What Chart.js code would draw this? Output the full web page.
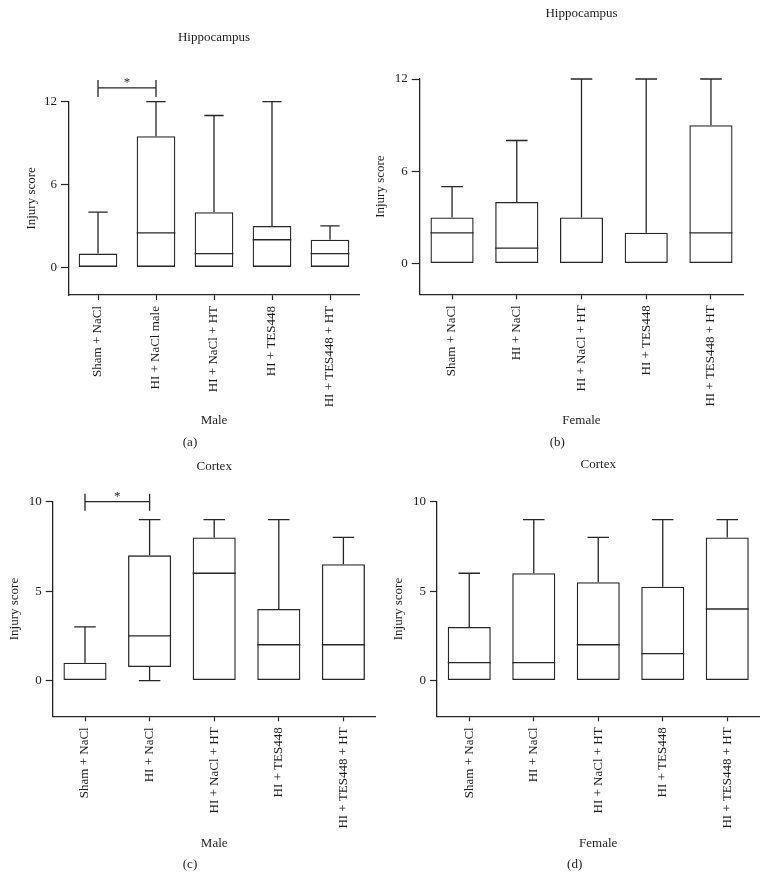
<!DOCTYPE html>
<html><head><meta charset="utf-8">
<script src="https://cdn.jsdelivr.net/npm/chart.js@4/dist/chart.umd.min.js"></script>
<style>
html,body{margin:0;padding:0;background:#fff;}
body{width:769px;height:891px;position:relative;overflow:hidden;}
canvas{position:absolute;}
</style></head><body>
<canvas id="cA" width="384" height="450" style="left:0px;top:0px"></canvas>
<canvas id="cB" width="409" height="450" style="left:360px;top:0px"></canvas>
<canvas id="cC" width="384" height="441" style="left:0px;top:450px"></canvas>
<canvas id="cD" width="389" height="441" style="left:380px;top:450px"></canvas>
<script>
// ---------- data ----------
const groupsHippoMale = ['Sham + NaCl', 'HI + NaCl male', 'HI + NaCl + HT', 'HI + TES448', 'HI + TES448 + HT'];
const groups = ['Sham + NaCl', 'HI + NaCl', 'HI + NaCl + HT', 'HI + TES448', 'HI + TES448 + HT'];

const hippoTicks = [0, 6, 12];
const cortexTicks = [0, 5, 10];

// (a) Hippocampus, male
const hippoMaleMin    = [0, 0, 0, 0, 0];
const hippoMaleQ1     = [0, 0, 0, 0, 0];
const hippoMaleMedian = [0, 2.5, 1, 2, 1];
const hippoMaleQ3     = [1, 9.5, 4, 3, 2];
const hippoMaleMax    = [4, 12, 11, 12, 3];

// (b) Hippocampus, female
const hippoFemaleMin    = [0, 0, 0, 0, 0];
const hippoFemaleQ1     = [0, 0, 0, 0, 0];
const hippoFemaleMedian = [2, 1, 0, 0, 2];
const hippoFemaleQ3     = [3, 4, 3, 2, 9];
const hippoFemaleMax    = [5, 8, 12, 12, 12];

// (c) Cortex, male
const cortexMaleMin    = [0, 0, 0, 0, 0];
const cortexMaleQ1     = [0, 0.75, 0, 0, 0];
const cortexMaleMedian = [0, 2.5, 6, 2, 2];
const cortexMaleQ3     = [1, 7, 8, 4, 6.5];
const cortexMaleMax    = [3, 9, 9, 9, 8];

// (d) Cortex, female
const cortexFemaleMin    = [0, 0, 0, 0, 0];
const cortexFemaleQ1     = [0, 0, 0, 0, 0];
const cortexFemaleMedian = [1, 1, 2, 1.5, 4];
const cortexFemaleQ3     = [3, 6, 5.5, 5.25, 8];
const cortexFemaleMax    = [6, 9, 8, 9, 9];

// significance brackets: [fromIndex, toIndex, level]
const sigHippoMale = [0, 1, 13];
const sigCortexMale = [0, 1, 10];

// ---------- styling ----------
const LINE = '#262626';
const TEXT = '#1f1c1d';
const FONT = "'Liberation Serif', 'Times New Roman', serif";
Chart.defaults.font.family = FONT;
Chart.defaults.font.size = 13;
Chart.defaults.color = TEXT;

const boxPlugin = {
  id: 'boxWhisker',
  afterDatasetsDraw(chart, args, opts) {
    const ctx = chart.ctx;
    const ys = chart.scales.y;
    const xs = chart.scales.x;
    const ds = chart.data.datasets[0];
    const meta = chart.getDatasetMeta(0);
    ctx.save();
    ctx.strokeStyle = LINE;
    ctx.lineWidth = 1.3;
    ctx.lineCap = 'butt';
    meta.data.forEach((bar, i) => {
      const x = bar.x, w = bar.width;
      const pMed = ys.getPixelForValue(ds.median[i]);
      const pQ1 = ys.getPixelForValue(ds.q1[i]);
      const pQ3 = ys.getPixelForValue(ds.q3[i]);
      const pMin = ys.getPixelForValue(ds.min[i]);
      const pMax = ys.getPixelForValue(ds.max[i]);
      ctx.beginPath();
      if (ds.median[i] > ds.q1[i]) {
        ctx.moveTo(x - w / 2, pMed); ctx.lineTo(x + w / 2, pMed);
      }
      if (ds.max[i] > ds.q3[i]) {
        ctx.moveTo(x, pQ3); ctx.lineTo(x, pMax);
        ctx.moveTo(x - w / 4, pMax); ctx.lineTo(x + w / 4, pMax);
      }
      if (ds.min[i] < ds.q1[i]) {
        ctx.moveTo(x, pQ1); ctx.lineTo(x, pMin);
        ctx.moveTo(x - w / 4, pMin); ctx.lineTo(x + w / 4, pMin);
      }
      ctx.stroke();
    });
    if (opts && opts.sig) {
      const [a, b, lvl] = opts.sig;
      const x1 = xs.getPixelForValue(a), x2 = xs.getPixelForValue(b);
      const py = ys.getPixelForValue(lvl);
      ctx.beginPath();
      ctx.moveTo(x1, py - 8); ctx.lineTo(x1, py + 9);
      ctx.moveTo(x1, py); ctx.lineTo(x2, py);
      ctx.moveTo(x2, py - 8); ctx.lineTo(x2, py + 9);
      ctx.stroke();
      ctx.fillStyle = TEXT;
      ctx.font = '13px ' + FONT;
      ctx.textAlign = 'center';
      ctx.textBaseline = 'alphabetic';
      ctx.fillText('*', (x1 + x2) / 2, py - 2);
    }
    ctx.restore();
  }
};

function makeChart(id, cfg) {
  const ctx = document.getElementById(id);
  return new Chart(ctx, {
    type: 'bar',
    data: {
      labels: cfg.labels,
      datasets: [{
        data: cfg.q1.map((v, i) => [v, cfg.q3[i]]),
        q1: cfg.q1, q3: cfg.q3, median: cfg.median, min: cfg.min, max: cfg.max,
        backgroundColor: 'rgba(255,255,255,0)',
        borderColor: LINE,
        borderWidth: 1.3,
        borderSkipped: false,
        barPercentage: 0.667,
        categoryPercentage: 1.0
      }]
    },
    options: {
      responsive: false,
      animation: false,
      devicePixelRatio: 1,
      layout: { padding: { left: cfg.pL, right: cfg.pR, top: 0, bottom: 0 } },
      plugins: {
        legend: { display: false },
        tooltip: { enabled: false },
        title: {
          display: true, text: cfg.title, fullSize: false, color: TEXT,
          font: { size: 13, weight: 'normal', lineHeight: 1.2 },
          padding: { top: cfg.tTop, bottom: cfg.tBottom }
        },
        subtitle: {
          display: true, text: cfg.panel, position: 'bottom', fullSize: true, color: TEXT,
          font: { size: 13, weight: 'normal', lineHeight: 1.2 },
          padding: { top: 0, bottom: cfg.sBottom }
        },
        boxWhisker: { sig: cfg.sig || null }
      },
      scales: {
        x: {
          type: 'category',
          grid: { display: true, drawOnChartArea: false, drawTicks: true, tickLength: 5, tickColor: LINE, tickWidth: 1.2, offset: false },
          border: { display: true, color: LINE, width: 1.3 },
          ticks: { color: TEXT, font: { size: 13 }, minRotation: 90, maxRotation: 90, autoSkip: false, padding: 6 },
          title: { display: true, text: cfg.xTitle, color: TEXT, font: { size: 13, lineHeight: 1.2 }, padding: { top: 0, bottom: cfg.xtBottom } },
          afterFit: s => { s.height = cfg.xH; }
        },
        y: {
          min: -2, max: cfg.yTicks[cfg.yTicks.length - 1],
          afterBuildTicks: s => { s.ticks = cfg.yTicks.map(v => ({ value: v })); },
          grid: { display: true, drawOnChartArea: false, drawTicks: true, tickLength: cfg.yTL, tickColor: LINE, tickWidth: 1.2 },
          border: { display: true, color: LINE, width: 1.3 },
          ticks: { color: TEXT, font: { size: 13 }, padding: 4 },
          title: { display: true, text: 'Injury score', color: TEXT, font: { size: 13, lineHeight: 1.2 }, padding: { top: cfg.ytTop, bottom: 0 } },
          afterFit: s => { s.width = cfg.yW; }
        }
      }
    },
    plugins: [boxPlugin]
  });
}

makeChart('cA', {
  labels: groupsHippoMale, title: 'Hippocampus', panel: '(a)', xTitle: 'Male',
  q1: hippoMaleQ1, q3: hippoMaleQ3, median: hippoMaleMedian, min: hippoMaleMin, max: hippoMaleMax,
  yTicks: hippoTicks, sig: sigHippoMale,
  pL: 21, pR: 25, yW: 48, ytTop: 2.9, yTL: 8,
  tTop: 29.5, tBottom: 56.6, sBottom: 0, xtBottom: 5.9, xH: 139.4
});
makeChart('cB', {
  labels: groups, title: 'Hippocampus', panel: '(b)', xTitle: 'Female',
  q1: hippoFemaleQ1, q3: hippoFemaleQ3, median: hippoFemaleMedian, min: hippoFemaleMin, max: hippoFemaleMax,
  yTicks: hippoTicks,
  pL: 11.3, pR: 25.7, yW: 48.4, ytTop: 1.9, yTL: 8,
  tTop: 5.5, tBottom: 57.9, sBottom: 0, xtBottom: 5.9, xH: 140.1
});
makeChart('cC', {
  labels: groups, title: 'Cortex', panel: '(c)', xTitle: 'Male',
  q1: cortexMaleQ1, q3: cortexMaleQ3, median: cortexMaleMedian, min: cortexMaleMin, max: cortexMaleMax,
  yTicks: cortexTicks, sig: sigCortexMale,
  pL: 4.3, pR: 8.3, yW: 48.4, ytTop: 2.9, yTL: 7,
  tTop: 8.9, tBottom: 27.2, sBottom: 18.2, xtBottom: 6.1, xH: 140.9
});
makeChart('cD', {
  labels: groups, title: 'Cortex', panel: '(d)', xTitle: 'Female',
  q1: cortexFemaleQ1, q3: cortexFemaleQ3, median: cortexFemaleMedian, min: cortexFemaleMin, max: cortexFemaleMax,
  yTicks: cortexTicks,
  pL: 9.9, pR: 9.5, yW: 47.1, ytTop: 1.3, yTL: 7,
  tTop: 6.5, tBottom: 29.6, sBottom: 18.2, xtBottom: 6.1, xH: 140.9
});
</script>
</body></html>
